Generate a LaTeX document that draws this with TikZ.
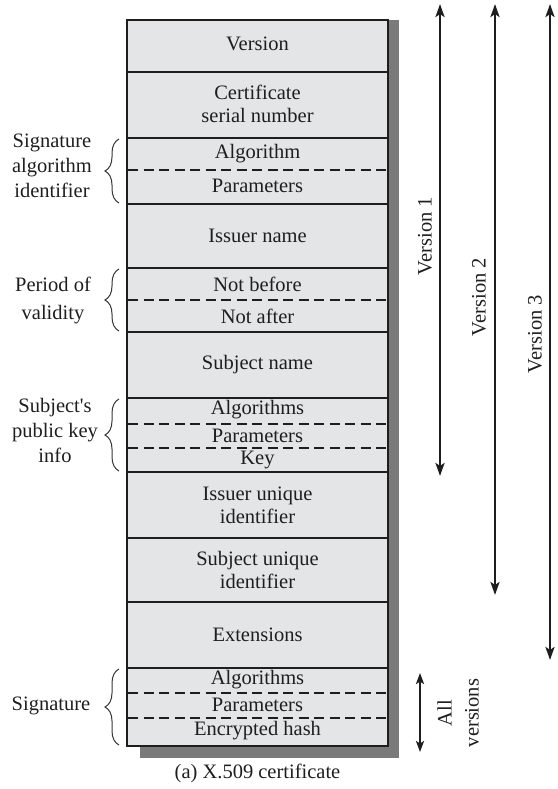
\documentclass[tikz,border=0pt]{standalone}
\usepackage{fontspec}
\setmainfont{Liberation Serif}
\usetikzlibrary{arrows.meta,decorations.pathreplacing}

\definecolor{cellfill}{RGB}{228,229,231}
\definecolor{shadowgray}{RGB}{122,122,122}
\definecolor{ink}{RGB}{30,30,30}

\begin{document}
\begin{tikzpicture}[x=1pt,y=-1pt,
  field/.style={font=\fontsize{20.5}{23}\selectfont, text=ink, align=center, inner sep=0pt},
  side/.style={font=\fontsize{20.5}{25}\selectfont, text=ink, align=center, inner sep=0pt},
  rule/.style={draw=ink, line width=2.9pt},
  subrule/.style={draw=ink, line width=1.4pt, dash pattern=on 10pt off 5.5pt},
  bracestyle/.style={draw=ink!90, line width=1pt, decorate,
    decoration={brace, amplitude=14pt}},
  span/.style={draw=ink, line width=2.8pt,
    {Stealth[length=13pt,width=9pt,inset=3pt]}-{Stealth[length=13pt,width=9pt,inset=3pt]}},
  bothspan/.style={draw=ink, line width=2.8pt,
    {Stealth[length=11pt,width=8pt,inset=2.5pt]}-{Stealth[length=11pt,width=8pt,inset=2.5pt]}},
]
\useasboundingbox (0,0) rectangle (557,789);

% drop shadow and body of the certificate
\fill[shadowgray] (140,20) rectangle (399,758);
\fill[cellfill] (127,20) rectangle (388,746);

% field separators
\foreach \y in {72,138,204,268,332,398,472,538,602,668}
  \draw[rule] (127,\y) -- (388,\y);
\foreach \y in {170,300,424,448,693,718}
  \draw[subrule] (128,\y) -- (387,\y);
\draw[rule] (127,20) rectangle (388,746);

% field texts
\node[field] (version)   at (257.5,44)  {Version};
\node[field] (serial)    at (257.5,104) {Certificate\\serial number};
\node[field] (salg)      at (257.5,154) {Algorithm};
\node[field] (spar)      at (257.5,186) {Parameters};
\node[field] (issuer)    at (257.5,236) {Issuer name};
\node[field] (nbefore)   at (257.5,284) {Not before};
\node[field] (nafter)    at (257.5,316) {Not after};
\node[field] (subject)   at (257.5,365) {Subject name};
\node[field] (kalg)      at (257.5,410) {Algorithms};
\node[field] (kpar)      at (257.5,436) {Parameters};
\node[field] (kkey)      at (257.5,460) {Key};
\node[field] (issuerid)  at (257.5,505) {Issuer unique\\identifier};
\node[field] (subjectid) at (257.5,570) {Subject unique\\identifier};
\node[field] (ext)       at (257.5,635) {Extensions};
\node[field] (galg)      at (257.5,680) {Algorithms};
\node[field] (gpar)      at (257.5,705) {Parameters};
\node[field] (ghash)     at (257.5,731) {Encrypted hash};

% grouping braces on the left
\coordinate (b1b) at (119,203); \coordinate (b1t) at (119,139);
\coordinate (b2b) at (119,331); \coordinate (b2t) at (119,269);
\coordinate (b3b) at (119,471); \coordinate (b3t) at (119,399);
\coordinate (b4b) at (119,745); \coordinate (b4t) at (119,669);
\draw[bracestyle] (b1b) -- (b1t);
\draw[bracestyle] (b2b) -- (b2t);
\draw[bracestyle] (b3b) -- (b3t);
\draw[bracestyle] (b4b) -- (b4t);

\node[side] (sigalgid) at (52,166) {Signature\\algorithm\\identifier};
\node[side, font=\fontsize{20.5}{28}\selectfont] (period) at (53,300) {Period of\\validity};
\node[side] (spki) at (55,430) {Subject\textquotesingle s\\public key\\info};
\node[side] (sigthis) at (51,706) {Signature};

% version spans
\coordinate (v1t) at (440,4);  \coordinate (v1b) at (440,476);
\coordinate (v2t) at (495,4);  \coordinate (v2b) at (495,595);
\coordinate (v3t) at (550,4);  \coordinate (v3b) at (550,660);
\draw[span] (v1t) -- (v1b);
\draw[span] (v2t) -- (v2b);
\draw[span] (v3t) -- (v3b);

\node[field, rotate=90] (ver1) at (425,236) {Version 1};
\node[field, rotate=90] (ver2) at (479,297) {Version 2};
\node[field, rotate=90] (ver3) at (535,334) {Version 3};

\coordinate (avt) at (420,673); \coordinate (avb) at (420,752);
\draw[bothspan] (avt) -- (avb);
\node[field, rotate=90, font=\fontsize{20.5}{27}\selectfont] (allv) at (458,713) {All\\versions};

% caption
\node[field] (caption) at (257.5,773) {(a) X.509 certificate};
\end{tikzpicture}
\end{document}
